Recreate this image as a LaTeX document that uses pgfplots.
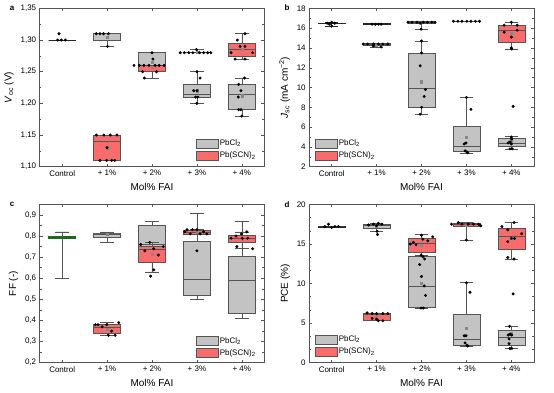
\documentclass[border=0pt]{standalone}
\usepackage{fontspec}
\setmainfont{Liberation Sans}
\usepackage{pgfplots}
\pgfplotsset{compat=1.18}
\usepgfplotslibrary{statistics}
\definecolor{boxgray}{RGB}{195,195,195}
\definecolor{boxred}{RGB}{250,108,108}
\definecolor{edge}{RGB}{85,85,85}
\definecolor{dkgreen}{RGB}{30,105,30}
\definecolor{meangray}{RGB}{135,135,135}
\pgfplotsset{
 panel/.style={scale only axis, width=224.6pt, height=158.3pt, xmin=-0.5, xmax=4.5,
   xtick={0,1,2,3,4}, xticklabels={Control,+ 1\%,+ 2\%,+ 3\%,+ 4\%},
   tick align=inside, major tick length=3pt, minor tick length=1.8pt, minor y tick num=1,
   axis line style={edge, line width=0.6pt}, tick style={edge, line width=0.5pt},
   ticklabel style={font=\fontsize{8}{9}\selectfont},
   label style={font=\fontsize{10}{11}\selectfont},
   xlabel={Mol\% FAI},
   /pgf/number format/assume math mode=true, /pgf/number format/use comma,
   boxplot/draw direction=y,
   legend style={draw=none, fill=none, font=\fontsize{8}{9}\selectfont, row sep=2pt, inner sep=1pt, nodes={inner sep=1.5pt}},
   legend cell align=left},
 boxleg/.style={legend image code/.code={\draw[##1] (0pt,-4.5pt) rectangle (22pt,4.5pt);}},
 gb/.style={fill=boxgray, draw=edge, line width=0.6pt},
 rb/.style={fill=boxred, draw=edge, line width=0.6pt},
 pts/.style={only marks, mark=*, mark size=1.3pt, black, forget plot},
 mn/.style={only marks, mark=square*, mark size=1.1pt, meangray, forget plot},
}
\newcommand{\bp}[7]{\addplot[#7, forget plot, boxplot prepared={draw position=#1, lower whisker=#2, lower quartile=#3, median=#4, upper quartile=#5, upper whisker=#6, box extend=0.6, whisker extend=0.3}] coordinates {};}
\begin{document}
\begin{tikzpicture}
\path[use as bounding box] (0pt,0pt) rectangle (554pt,393pt);
% ---------------- a
\begin{axis}[panel, at={(39.7pt,226.3pt)}, anchor=south west,
  ymin=1.10, ymax=1.35, ytick={1.10,1.15,...,1.36},
  yticklabel style={/pgf/number format/.cd, fixed, fixed zerofill, precision=2, use comma},
  ylabel={\textit{V}\textsubscript{oc} (V)},
  legend style={at={(0.69,0.03)}, anchor=south west}]
\bp{0}{1.30}{1.30}{1.30}{1.30}{1.30}{gb, draw=black!85}
\bp{1}{1.29}{1.30}{1.31}{1.31}{1.31}{gb}
\bp{2}{1.24}{1.25}{1.26}{1.28}{1.28}{gb}
\bp{3}{1.20}{1.21}{1.215}{1.23}{1.25}{gb}
\bp{4}{1.18}{1.19}{1.215}{1.23}{1.24}{gb}
\bp{1}{1.11}{1.11}{1.14}{1.15}{1.15}{rb}
\bp{2}{1.25}{1.25}{1.26}{1.26}{1.26}{rb}
\bp{3}{1.28}{1.28}{1.28}{1.28}{1.285}{rb}
\bp{4}{1.27}{1.275}{1.285}{1.295}{1.31}{rb}
\addplot[mn] coordinates {(1,1.305) (2,1.265) (3,1.22) (4,1.212) (1,1.13) (2,1.257) (3,1.281) (4,1.286)};
\addplot[pts] coordinates {
(-0.07,1.31) (-0.1,1.30) (-0.02,1.30) (0.07,1.30)
(0.76,1.31) (0.84,1.31) (0.92,1.31) (1.03,1.31) (1.01,1.29)
(0.76,1.15) (0.93,1.15) (1.07,1.15) (1.22,1.15) (0.84,1.11) (0.99,1.11) (1.1,1.11) (1.17,1.11) (1.0,1.13)
(2.0,1.28) (2.02,1.27) (1.6,1.26) (1.72,1.26) (1.82,1.26) (1.93,1.26) (2.07,1.26) (2.16,1.26) (2.27,1.26) (1.79,1.25) (2.1,1.25) (1.83,1.24)
(2.63,1.28) (2.72,1.28) (2.82,1.28) (2.91,1.28) (3.06,1.28) (3.15,1.28) (3.24,1.28) (3.31,1.28) (2.99,1.285)
(3.0,1.25) (3.07,1.24) (2.93,1.22) (3.0,1.22) (2.97,1.21) (3.02,1.21) (3.0,1.20)
(4.06,1.24) (3.93,1.23) (3.98,1.22) (3.92,1.21) (3.93,1.19) (3.98,1.19) (4.0,1.18)
(4.07,1.31) (3.9,1.30) (3.96,1.29) (4.07,1.29) (3.76,1.28) (4.24,1.28) (3.85,1.27) (4.07,1.27)};
\addlegendimage{boxleg, fill=boxgray, draw=edge}
\addlegendentry{PbCl\textsubscript{2}}
\addlegendimage{boxleg, fill=boxred, draw=edge}
\addlegendentry{Pb(SCN)\textsubscript{2}}
\end{axis}
% ---------------- b
\begin{axis}[panel, at={(309.2pt,226.3pt)}, anchor=south west,
  ymin=2, ymax=18, ytick={2,4,...,18},
  ylabel={\textit{J}\textsubscript{sc} (mA cm\textsuperscript{−2})},
  legend style={at={(0.02,0.03)}, anchor=south west}]
\bp{0}{16.2}{16.45}{16.5}{16.5}{16.6}{gb, draw=black!85}
\bp{1}{16.4}{16.4}{16.4}{16.45}{16.45}{gb, draw=black!85}
\bp{2}{7.3}{8.0}{9.9}{13.5}{14.7}{gb}
\bp{3}{3.4}{3.6}{4.05}{6.1}{9.0}{gb}
\bp{4}{3.8}{4.1}{4.4}{4.85}{5.05}{gb}
\bp{1}{14.1}{14.3}{14.4}{14.5}{14.5}{rb}
\bp{2}{15.9}{16.5}{16.6}{16.65}{16.7}{rb}
\bp{3}{16.65}{16.65}{16.7}{16.7}{16.7}{rb}
\bp{4}{13.9}{14.6}{15.75}{16.3}{16.6}{rb}
\addplot[mn] coordinates {(2,10.6) (3,5.0) (4,4.6) (1,14.3) (4,15.5)};
\addplot[pts] coordinates {
(0,16.6) (-0.1,16.5) (0.07,16.5) (-0.05,16.4) (0,16.2)
(0.9,16.4) (0.97,16.4) (1.04,16.4) (1.1,16.4)
(0.7,14.4) (0.8,14.4) (0.93,14.4) (1.04,14.4) (1.14,14.4) (1.25,14.4) (0.93,14.2) (1.1,14.1)
(1.7,16.6) (1.79,16.6) (1.9,16.6) (2.04,16.6) (2.13,16.6) (2.23,16.6) (2.3,16.6) (1.97,16.5) (1.99,15.9)
(2,14.7) (2,13.5) (1.97,12.2) (2.09,9.8) (2.06,9.1) (2,8.0) (1.97,7.3)
(2.71,16.7) (2.81,16.7) (2.9,16.7) (3.01,16.7) (3.1,16.7) (3.2,16.7) (3.29,16.7)
(3,9.0) (3.1,7.8) (2.99,4.4) (2.95,4.3) (2.97,3.6) (3.01,3.5) (3.03,3.4)
(4,16.6) (3.84,16.3) (4.13,16.3) (4.13,15.8) (3.84,15.6) (4,15.1) (4,14.0) (4.01,13.9)
(4.04,8.1) (4,5.0) (4.01,4.8) (3.97,4.5) (3.93,4.4) (4,4.3) (3.97,3.8) (4.02,3.8)};
\addlegendimage{boxleg, fill=boxgray, draw=edge}
\addlegendentry{PbCl\textsubscript{2}}
\addlegendimage{boxleg, fill=boxred, draw=edge}
\addlegendentry{Pb(SCN)\textsubscript{2}}
\end{axis}
% ---------------- c
\begin{axis}[panel, at={(39.7pt,30.3pt)}, anchor=south west,
  ymin=0.2, ymax=0.95, ytick={0.2,0.3,...,0.91},
  yticklabel style={/pgf/number format/.cd, fixed, fixed zerofill, precision=1, use comma},
  ylabel={FF (-)},
  legend style={at={(0.69,0.02)}, anchor=south west}]
\bp{0}{0.60}{0.79}{0.795}{0.80}{0.82}{fill=dkgreen, draw=dkgreen, line width=0.6pt, boxplot/every whisker/.style={draw=edge}}
\bp{1}{0.77}{0.795}{0.81}{0.815}{0.82}{gb}
\bp{2}{0.675}{0.675}{0.76}{0.85}{0.87}{gb}
\bp{3}{0.50}{0.52}{0.595}{0.775}{0.91}{gb}
\bp{4}{0.41}{0.435}{0.59}{0.705}{0.87}{gb}
\bp{1}{0.33}{0.34}{0.37}{0.38}{0.39}{rb}
\bp{2}{0.63}{0.675}{0.735}{0.75}{0.77}{rb}
\bp{3}{0.81}{0.81}{0.82}{0.825}{0.83}{rb}
\bp{4}{0.74}{0.77}{0.79}{0.805}{0.82}{rb}
\addplot[mn] coordinates {(1,0.81) (1,0.36) (2,0.715) (3,0.82) (4,0.785)};
\addplot[pts] coordinates {
(0.74,0.38) (0.8,0.38) (0.89,0.37) (0.99,0.38) (1.1,0.35) (1.03,0.33) (1.18,0.33) (1.26,0.39)
(1.75,0.76) (1.84,0.73) (1.95,0.77) (2.04,0.74) (2.25,0.75) (2.14,0.71) (2.04,0.64) (1.97,0.61)
(2.78,0.83) (2.9,0.83) (3.0,0.83) (2.73,0.82) (3.15,0.82) (2.85,0.81) (3.07,0.81) (3.22,0.81) (3.0,0.73)
(4.11,0.82) (3.99,0.81) (3.87,0.80) (3.76,0.79) (4.01,0.79) (4.13,0.79) (3.89,0.75) (4.24,0.74)};
\addlegendimage{boxleg, fill=boxgray, draw=edge}
\addlegendentry{PbCl\textsubscript{2}}
\addlegendimage{boxleg, fill=boxred, draw=edge}
\addlegendentry{Pb(SCN)\textsubscript{2}}
\end{axis}
% ---------------- d
\begin{axis}[panel, at={(309.2pt,30.3pt)}, anchor=south west,
  ymin=0, ymax=20, ytick={0,5,...,20}, minor y tick num=2,
  ylabel={PCE (\%)},
  legend style={at={(0.02,0.03)}, anchor=south west}]
\bp{0}{17.1}{17.1}{17.15}{17.2}{17.2}{gb, draw=black!85}
\bp{1}{16.6}{16.97}{17.3}{17.5}{17.6}{gb}
\bp{2}{6.9}{6.95}{9.7}{13.4}{13.6}{gb}
\bp{3}{2.1}{2.2}{2.9}{6.1}{10.1}{gb}
\bp{4}{1.8}{2.2}{3.2}{4.1}{4.6}{gb}
\bp{1}{5.3}{5.4}{6.1}{6.2}{6.3}{rb}
\bp{2}{13.6}{14.0}{15.1}{15.66}{16.2}{rb}
\bp{3}{15.5}{17.25}{17.45}{17.55}{17.7}{rb}
\bp{4}{13.1}{14.3}{16.0}{17.0}{17.7}{rb}
\addplot[mn] coordinates {(1,17.2) (2,10.0) (3,4.4) (4,3.7) (1,5.9) (2,14.8) (3,17.4) (4,15.7)};
\addplot[pts] coordinates {
(-0.07,17.5) (-0.15,17.2) (0.07,17.2) (0.15,17.2) (0,17.1)
(1.04,17.6) (0.93,17.5) (1.12,17.5) (0.82,17.4) (1.0,17.3) (1.01,16.6) (1.02,16.2)
(0.79,6.3) (0.9,6.2) (1.0,6.2) (1.14,6.2) (1.25,6.2) (0.9,5.6) (1.04,5.3) (1.14,5.3) (1.0,5.5)
(2,16.1) (2.25,15.9) (2.03,15.6) (2.14,15.4) (1.82,15.2) (1.75,15.0) (1.88,14.9)
(1.99,13.6) (2.03,13.4) (2.07,13.1) (1.96,12.4) (2,10.9) (2.06,9.7) (2.09,8.5) (1.99,6.9) (2.04,6.9)
(2.82,17.7) (2.67,17.5) (2.9,17.5) (3.04,17.5) (3.16,17.5) (3.27,17.5) (3.32,17.3) (3,15.5)
(3,10.1) (3.08,8.9) (2.95,3.4) (2.99,3.4) (2.97,2.5) (3.01,2.2) (3.03,2.1)
(4.06,17.7) (3.79,17.2) (3.92,16.8) (4.23,16.3) (4,15.7) (4.07,15.7) (3.92,15.3) (3.92,13.3) (4.06,13.1)
(4.04,8.7) (3.96,4.6) (3.97,3.6) (3.93,3.5) (4.01,3.5) (3.95,3.0) (3.95,2.4) (3.97,1.8) (4.01,1.8)};
\addlegendimage{boxleg, fill=boxgray, draw=edge}
\addlegendentry{PbCl\textsubscript{2}}
\addlegendimage{boxleg, fill=boxred, draw=edge}
\addlegendentry{Pb(SCN)\textsubscript{2}}
\end{axis}
\node[font=\bfseries\fontsize{8}{9}\selectfont] at (12pt,385pt) {a};
\node[font=\bfseries\fontsize{8}{9}\selectfont] at (287pt,385pt) {b};
\node[font=\bfseries\fontsize{8}{9}\selectfont] at (12pt,189pt) {c};
\node[font=\bfseries\fontsize{8}{9}\selectfont] at (287pt,188pt) {d};
\end{tikzpicture}
\end{document}
